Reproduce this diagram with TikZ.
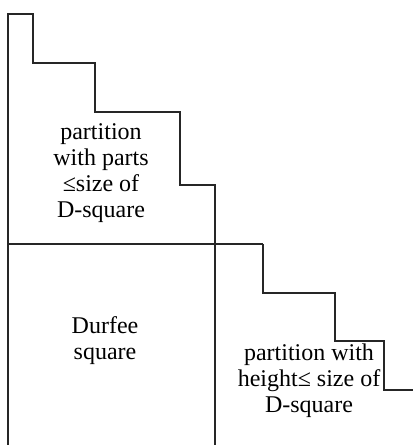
\documentclass[tikz,border=0pt]{standalone}
\usepackage{fontspec}
\setmainfont{Liberation Serif}
\usepackage{tikz}

\tikzset{
  edge/.style={line width=1.1pt, black!85},
  label/.style={align=center, font=\fontsize{24}{26}\selectfont, inner sep=0pt}
}

\begin{document}
\begin{tikzpicture}[x=1pt, y=-1pt]
			%%%%% START %%%%%
			\useasboundingbox (0, 0) rectangle (413, 445);
			
			% upper staircase
			\draw[edge] (8, 445) -- (8, 14) -- (33, 14) -- (33, 63) -- (95, 63) -- (95, 112)
			  -- (180, 112) -- (180, 185) -- (215, 185) -- (215, 445);
			
			% line under the upper block
			\draw[edge] (8, 244) -- (263, 244);
			
			% lower staircase
			\draw[edge] (263, 244) -- (263, 293) -- (335, 293) -- (335, 341) -- (384, 341)
			  -- (384, 390) -- (413, 390);
			
			\node[label] (parts) at (101, 173) {partition\\with parts\\≤size of\\D-square};
			\node[label] (durfee) at (105, 341) {Durfee\\square};
			\node[label] (height) at (309, 381) {partition with\\height≤ size of\\D-square};
			%%%%% END %%%%%
		\end{tikzpicture}
\end{document}
